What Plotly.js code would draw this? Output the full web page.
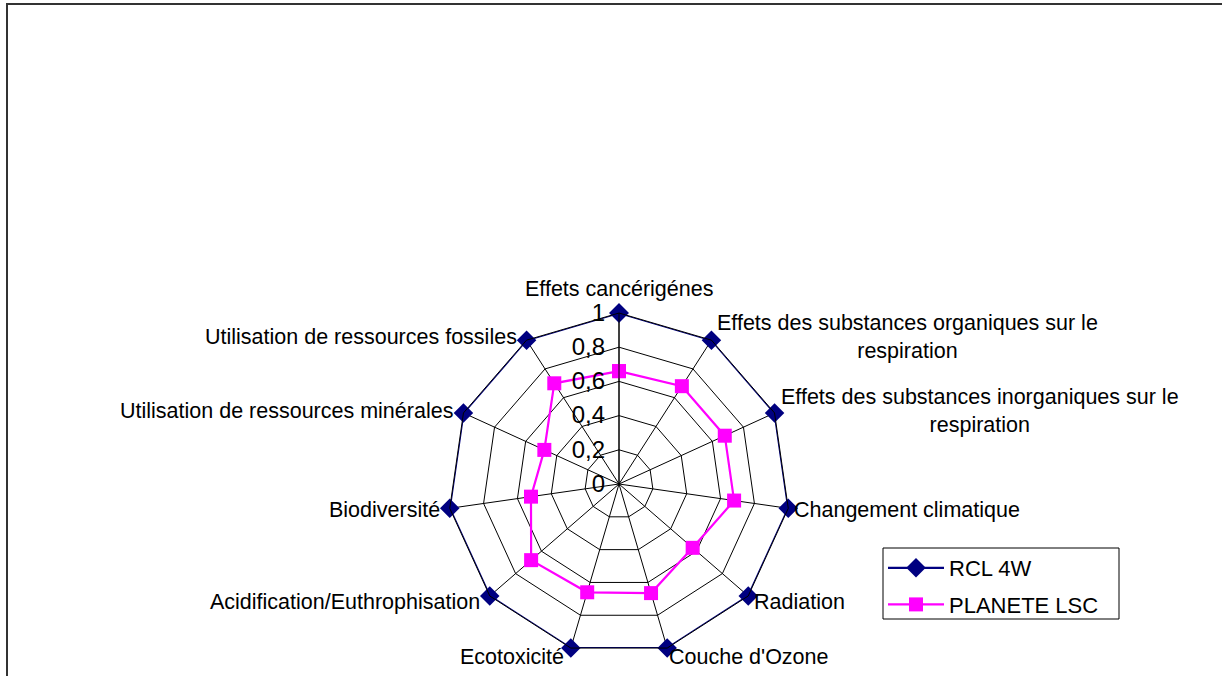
<!DOCTYPE html>
<html><head><meta charset="utf-8">
<script src="https://cdn.plot.ly/plotly-3.0.1.min.js"></script>
<style>html,body{margin:0;padding:0;background:#fff;}#chart{width:1222px;height:676px;}</style>
</head><body><div id="chart"></div>
<script>
const categories = [
  "Effets cancérigénes",
  "Effets des substances organiques sur le<br>respiration",
  "Effets des substances inorganiques sur le<br>respiration",
  "Changement climatique",
  "Radiation",
  "Couche d'Ozone",
  "Ecotoxicité",
  "Acidification/Euthrophisation",
  "Biodiversité",
  "Utilisation de ressources minérales",
  "Utilisation de ressources fossiles"
];
const rclValues = [1, 1, 1, 1, 1, 1, 1, 1, 1, 1, 1];
const planeteValues = [0.66, 0.68, 0.68, 0.68, 0.57, 0.665, 0.66, 0.68, 0.52, 0.48, 0.70];
const radialTicks = [0, 0.2, 0.4, 0.6, 0.8, 1];

function closed(a){ return a.concat([a[0]]); }
const FONT = "Liberation Sans, Arial, sans-serif";

const traces = [
  {type:'scatterpolar', name:'RCL 4W', r:closed(rclValues), theta:closed(categories),
   mode:'lines+markers', line:{color:'#000080', width:2.2},
   marker:{symbol:'diamond', size:15, color:'#000080'}, legendgroup:'a', cliponaxis:false},
  {type:'scatterpolar', name:'PLANETE LSC', r:closed(planeteValues), theta:closed(categories),
   mode:'lines+markers', line:{color:'#FF00FF', width:2.2},
   marker:{symbol:'square', size:14, color:'#FF00FF'}, legendgroup:'b', cliponaxis:false}
];

const W = 1222, H = 676;
// polar plot area (pixels): square domain
const PX0 = 448, PX1 = 790, PY0 = 313, PY1 = 655;
const CX = (PX0 + PX1) / 2, CY = (PY0 + PY1) / 2, R = (PX1 - PX0) / 2;

// category labels as annotations placed just outside the outer polygon vertex
const n = categories.length;
const annotations = categories.map(function(c, i){
  const th = i * 2 * Math.PI / n;
  const s = Math.sin(th), co = Math.cos(th);
  const px = CX + R * s, py = CY - R * co;
  let xanchor = 'center', yanchor = 'middle', xshift = 0, yshift = 0;
  if (s > 0.1) { xanchor = 'left'; xshift = Math.abs(s) < 0.5 ? 0 : 4; }
  else if (s < -0.1) { xanchor = 'right'; xshift = Math.abs(s) < 0.5 ? -5 : -8; }
  else { yanchor = 'bottom'; yshift = 10; }
  if (yanchor === 'middle') yshift = co > 0 ? 4 * co : 9 * co;
  return {text:c, xref:'paper', yref:'paper', x:px / W, y:1 - py / H,
    xanchor:xanchor, yanchor:yanchor, xshift:xshift, yshift:yshift,
    showarrow:false, align:'center',
    font:{family:FONT, size:21.5, color:'#000'}};
});

const layout = {
  width: W, height: H,
  margin:{l:0, r:0, t:0, b:0},
  paper_bgcolor:'#fff',
  separators: ',.',
  font:{family:FONT, size:20, color:'#000'},
  showlegend:true,
  legend:{x:883/W, y:1-547/H, xanchor:'left', yanchor:'top',
    borderwidth:0, bgcolor:'rgba(0,0,0,0)',
    font:{family:FONT, size:22, color:'#000'},
    traceorder:'grouped', tracegroupgap:5, itemwidth:56},
  polar:{
    domain:{x:[PX0/W, PX1/W], y:[1-PY1/H, 1-PY0/H]},
    gridshape:'linear',
    bgcolor:'rgba(0,0,0,0)',
    angularaxis:{type:'category', direction:'clockwise', rotation:90,
      showline:true, linecolor:'#000', linewidth:1,
      gridcolor:'#000', gridwidth:1, ticks:'', showticklabels:false},
    radialaxis:{range:[0,1], angle:90, side:'counterclockwise',
      tickvals:radialTicks, ticktext:radialTicks.map(v=>String(v).replace('.',',')),
      showline:true, linecolor:'#000', linewidth:1,
      ticks:'outside', ticklen:5, tickcolor:'rgba(0,0,0,0)',
      gridcolor:'#000', gridwidth:1, showgrid:true,
      tickfont:{family:FONT, size:24, color:'#000'}, tickangle:90}
  },
  annotations: annotations,
  shapes:[
    {type:'rect', xref:'paper', yref:'paper', x0:7/W, x1:1.02, y0:-0.02, y1:1-4/H,
     line:{color:'#333', width:2}, fillcolor:'rgba(0,0,0,0)', layer:'below'},
    {type:'rect', xref:'paper', yref:'paper', x0:883/W, x1:1119/W, y0:1-619/H, y1:1-548/H,
     line:{color:'#000', width:1}, fillcolor:'rgba(0,0,0,0)', layer:'above'}
  ]
};
Plotly.newPlot('chart', traces, layout, {displayModeBar:false, staticPlot:true});
</script></body></html>
